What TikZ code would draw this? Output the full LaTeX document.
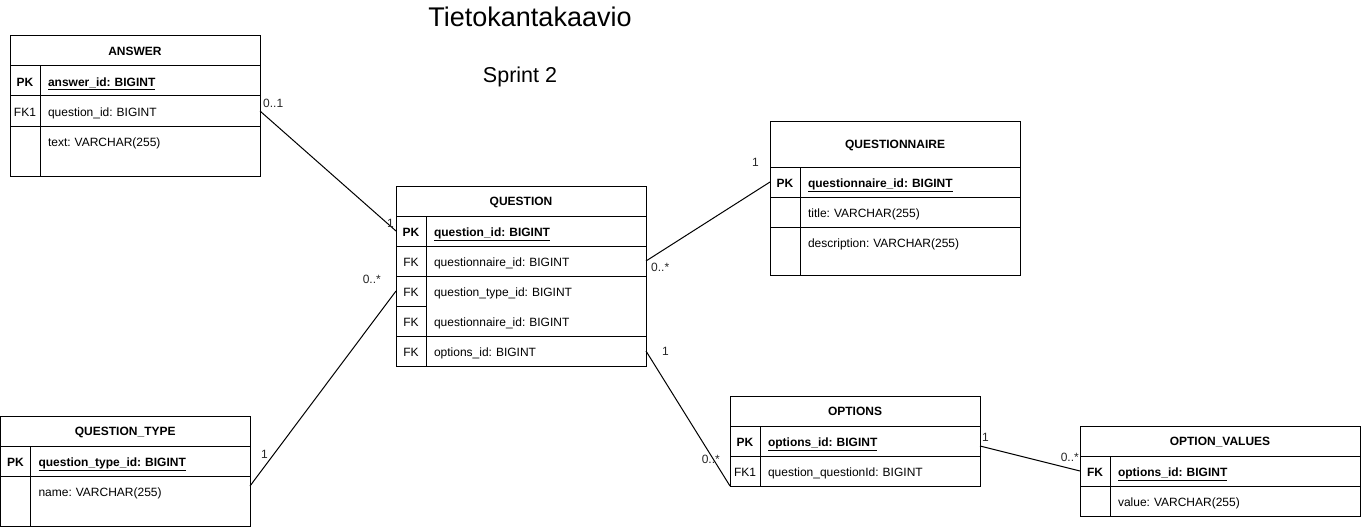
\documentclass[tikz,border=0pt]{standalone}
\usepackage{fontspec}
\setmainfont{Liberation Sans}
\usetikzlibrary{positioning}
\frenchspacing

\tikzset{
  tbl/.style={draw, line width=1pt, inner sep=0pt, outer sep=0pt, anchor=north west},
  hdr/.style={draw, line width=1pt, inner sep=0pt, outer sep=0pt, anchor=north west, text height=11pt, text depth=1.5pt, font=\fontsize{12}{14}\selectfont\bfseries},
  keycell/.style={draw, line width=1pt, inner sep=0pt, outer sep=0pt, minimum width=30pt, minimum height=30pt, anchor=north west, text height=13pt, text depth=1.4pt, font=\fontsize{12}{14}\selectfont},
  pkcell/.style={keycell, font=\fontsize{12}{14}\selectfont\bfseries},
  fieldcell/.style={draw, line width=1pt, inner xsep=8pt, inner ysep=0pt, outer sep=0pt, minimum height=30pt, text width=#1, text height=13pt, text depth=1.4pt, align=left, anchor=north west, font=\fontsize{12}{14}\selectfont},
  fieldcell/.default=204pt,
  card/.style={inner sep=1pt, font=\fontsize{12}{14}\selectfont, text=black!85},
  rel/.style={line width=1pt},
}

\begin{document}
\begin{tikzpicture}[x=1pt, y=-1pt]
\useasboundingbox (0,0) rectangle (1361,527);
% --- titoli ---
\node[font=\fontsize{27}{32}\selectfont] (title) at (530,17) {Tietokantakaavio};
\node[font=\fontsize{21.5}{26}\selectfont] (sprint) at (520,77) {Sprint 2};

% --- ANSWER ---
\node[tbl, minimum width=250pt, minimum height=140pt] (answer) at (10,36) {};
\node[hdr, minimum width=250pt, minimum height=30pt] (answer-h) at (answer.north west) {ANSWER};
\node[pkcell] (answer-pk-k) at (answer-h.south west) {PK};
\node[fieldcell] (answer-pk) at (answer-pk-k.north east) {\textbf{\underline{answer\_id: BIGINT}}};
\node[keycell] (answer-fk-k) at (answer-pk-k.south west) {FK1};
\node[fieldcell] (answer-fk) at (answer-fk-k.north east) {question\_id: BIGINT};
\node[keycell, minimum height=50pt] (answer-txt-k) at (answer-fk-k.south west) {};
\node[fieldcell, draw=none] (answer-txt) at (answer-txt-k.north east) {text: VARCHAR(255)};

% --- QUESTION ---
\node[tbl, minimum width=250pt, minimum height=180pt] (question) at (396,186) {};
\node[hdr, minimum width=250pt, minimum height=30pt] (question-h) at (question.north west) {QUESTION};
\node[pkcell] (question-pk-k) at (question-h.south west) {PK};
\node[fieldcell] (question-pk) at (question-pk-k.north east) {\textbf{\underline{question\_id: BIGINT}}};
\node[keycell] (question-fk1-k) at (question-pk-k.south west) {FK};
\node[fieldcell] (question-fk1) at (question-fk1-k.north east) {questionnaire\_id: BIGINT};
\node[keycell] (question-fk2-k) at (question-fk1-k.south west) {FK};
\node[fieldcell, draw=none] (question-fk2) at (question-fk2-k.north east) {question\_type\_id: BIGINT};
\node[keycell] (question-fk3-k) at (question-fk2-k.south west) {FK};
\node[fieldcell, draw=none] (question-fk3) at (question-fk3-k.north east) {questionnaire\_id: BIGINT};
\node[keycell] (question-fk4-k) at (question-fk3-k.south west) {FK};
\node[fieldcell] (question-fk4) at (question-fk4-k.north east) {options\_id: BIGINT};

% --- QUESTIONNAIRE ---
\node[tbl, minimum width=250pt, minimum height=154pt] (qnaire) at (770,121) {};
\node[hdr, minimum width=250pt, minimum height=46pt] (qnaire-h) at (qnaire.north west) {QUESTIONNAIRE};
\node[pkcell] (qnaire-pk-k) at (qnaire-h.south west) {PK};
\node[fieldcell] (qnaire-pk) at (qnaire-pk-k.north east) {\textbf{\underline{questionnaire\_id: BIGINT}}};
\node[keycell] (qnaire-title-k) at (qnaire-pk-k.south west) {};
\node[fieldcell] (qnaire-title) at (qnaire-title-k.north east) {title: VARCHAR(255)};
\node[keycell, minimum height=48pt] (qnaire-desc-k) at (qnaire-title-k.south west) {};
\node[fieldcell, draw=none] (qnaire-desc) at (qnaire-desc-k.north east) {description: VARCHAR(255)};

% --- QUESTION_TYPE ---
\node[tbl, minimum width=249.5pt, minimum height=110pt] (qtype) at (0.5,416) {};
\node[hdr, minimum width=249.5pt, minimum height=30pt] (qtype-h) at (qtype.north west) {QUESTION\_TYPE};
\node[pkcell] (qtype-pk-k) at (qtype-h.south west) {PK};
\node[fieldcell=203.5pt] (qtype-pk) at (qtype-pk-k.north east) {\textbf{\underline{question\_type\_id: BIGINT}}};
\node[keycell, minimum height=50pt] (qtype-name-k) at (qtype-pk-k.south west) {};
\node[fieldcell=203.5pt, draw=none] (qtype-name) at (qtype-name-k.north east) {name: VARCHAR(255)};

% --- OPTIONS ---
\node[tbl, minimum width=250pt, minimum height=90pt] (options) at (730,396) {};
\node[hdr, minimum width=250pt, minimum height=30pt] (options-h) at (options.north west) {OPTIONS};
\node[pkcell] (options-pk-k) at (options-h.south west) {PK};
\node[fieldcell] (options-pk) at (options-pk-k.north east) {\textbf{\underline{options\_id: BIGINT}}};
\node[keycell] (options-fk-k) at (options-pk-k.south west) {FK1};
\node[fieldcell] (options-fk) at (options-fk-k.north east) {question\_questionId: BIGINT};

% --- OPTION_VALUES ---
\node[tbl, minimum width=280pt, minimum height=90pt] (optval) at (1080,426) {};
\node[hdr, minimum width=280pt, minimum height=30pt] (optval-h) at (optval.north west) {OPTION\_VALUES};
\node[pkcell] (optval-fk-k) at (optval-h.south west) {FK};
\node[fieldcell=234pt] (optval-fk) at (optval-fk-k.north east) {\textbf{\underline{options\_id: BIGINT}}};
\node[keycell] (optval-val-k) at (optval-fk-k.south west) {};
\node[fieldcell=234pt] (optval-val) at (optval-val-k.north east) {value: VARCHAR(255)};

% --- relazioni ---
\draw[rel] (answer-fk.east) -- (question-pk-k.west);
\node[card, anchor=south west] (c-ans) at ([xshift=2pt,yshift=2pt]answer-fk.east) {0..1};
\node[card, anchor=south east] (c-ans-q) at ([xshift=-1pt,yshift=2pt]question-pk-k.west) {1};

\draw[rel] (question-fk1.east) -- (qnaire-pk-k.west);
\node[card, anchor=north west] (c-q-qn) at ([xshift=4pt,yshift=-1pt]question-fk1.east) {0..*};
\node[card, anchor=south east] (c-qn) at ([xshift=-10pt,yshift=14pt]qnaire-pk-k.west) {1};

\draw[rel] ([yshift=5pt]qtype-name.east) -- (question-fk2-k.west);
\node[card, anchor=south west] (c-qt) at ([xshift=10pt,yshift=31pt]qtype-name.east) {1};
\node[card, anchor=south east] (c-q-qt) at ([xshift=-14pt,yshift=6pt]question-fk2-k.west) {0..*};

\draw[rel] (question-fk4.east) -- (options-fk-k.south west);
\node[card, anchor=west] (c-q-op) at ([xshift=15pt]question-fk4.east) {1};
\node[card, anchor=south east] (c-op) at ([xshift=-9pt,yshift=21pt]options-fk-k.south west) {0..*};

\draw[rel] ([yshift=-5pt]options-pk.east) -- (optval-fk-k.west);
\node[card, anchor=south west] (c-op-ov) at ([xshift=1pt,yshift=-2pt]options-pk.east) {1};
\node[card, anchor=south east] (c-ov) at ([yshift=8pt]optval-fk-k.west) {0..*};
\end{tikzpicture}
\end{document}
